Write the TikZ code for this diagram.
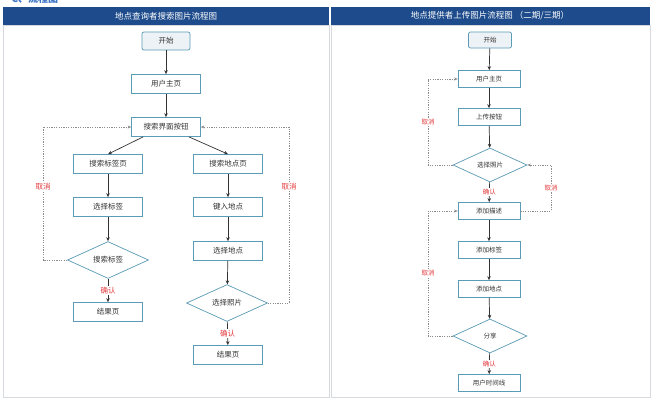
\documentclass[tikz,border=0pt]{standalone}
\usepackage{fontspec}
\setmainfont{Noto Sans CJK SC}
\usetikzlibrary{shapes.geometric,arrows.meta}

\definecolor{bandeau}{HTML}{1D4B8B}
\definecolor{bordure}{HTML}{5A9BB5}
\definecolor{fond}{HTML}{EDF2F6}
\definecolor{rouge}{HTML}{E4393C}
\definecolor{trait}{HTML}{333333}
\definecolor{texte}{HTML}{333333}
\definecolor{gris}{HTML}{8C8C8C}
\definecolor{cadre}{HTML}{D6D9DE}
\definecolor{lien}{HTML}{3B73C6}

\tikzset{
  boite/.style={draw=bordure, fill=white, line width=0.7pt, inner sep=0pt, text=texte},
  debut/.style={boite, rounded corners=2pt, fill=fond},
  choix/.style={boite, diamond},
  fleche/.style={draw=trait, line width=0.7pt, -{Stealth[length=4pt,width=3.5pt]}},
  retour/.style={draw=gris, line width=0.5pt, dash pattern=on 1.2pt off 1.2pt, -{Stealth[length=3.5pt,width=3pt]}},
  reponse/.style={fill=white, text=rouge, inner sep=1pt},
  titre/.style={text=white, font=\fontsize{8.5}{10}\selectfont}
}

\begin{document}
\begin{tikzpicture}[x=1pt, y=-1pt]
    \useasboundingbox (0,0) rectangle (652,400);
    \clip (0,0) rectangle (652,400);
    \fill[white] (0,0) rectangle (652,400);

    %Cadre
    \node[anchor=west, text=lien, font=\fontsize{10}{12}\bfseries\selectfont] (rubrique) at (8,-1) {C、流程图};
    \fill[bandeau] (3,7) rectangle (329,25);
    \fill[bandeau] (331,7) rectangle (650,25);
    \draw[cadre] (3,25) rectangle (329,397);
    \draw[cadre] (331,25) rectangle (650,397);
    \node[titre] (titreg) at (166,16) {地点查询者搜索图片流程图};
    \node[titre] (titred) at (490,16) {地点提供者上传图片流程图 （二期/三期）};

    %Recherche
    \begin{scope}[font=\fontsize{7.5}{9}\selectfont,
      boite/.append style={minimum width=69pt, minimum height=19pt},
      debut/.append style={minimum width=48pt, minimum height=18pt},
      choix/.append style={minimum width=81pt, minimum height=36pt}]
    \node[debut] (g1) at (166,41) {开始};
    \node[boite] (g2) at (166,84) {用户主页};
    \node[boite] (g3) at (166,127) {搜索界面按钮};
    \node[boite] (g4) at (108,164) {搜索标签页};
    \node[boite] (g5) at (228,164) {搜索地点页};
    \node[boite] (g6) at (108,207) {选择标签};
    \node[boite] (g7) at (228,207) {键入地点};
    \node[choix] (g8) at (108,260) {搜索标签};
    \node[boite] (g9) at (228,251) {选择地点};
    \node[choix] (g10) at (227,303) {选择照片};
    \node[boite] (g11) at (108,312) {结果页};
    \node[boite] (g12) at (228,355) {结果页};

    \draw[fleche] (g1) -- (g2);
    \draw[fleche] (g2) -- (g3);
    \draw[fleche] ([xshift=12pt]g3.south west) -- (g4.north);
    \draw[fleche] ([xshift=-12pt]g3.south east) -- (g5.north);
    \draw[fleche] (g4) -- (g6);
    \draw[fleche] (g6) -- (g8);
    \draw[fleche] (g5) -- (g7);
    \draw[fleche] (g7) -- (g9);
    \draw[fleche] (g9) -- (g10);
    \draw[fleche] (g8) -- node[reponse]{确认} (g11);
    \draw[fleche] (g10) -- node[reponse]{确认} (g12);

    \coordinate (ga) at (43,260);
    \coordinate (gb) at (43,127);
    \coordinate (gc) at (289,303);
    \coordinate (gd) at (289,127);
    \draw[retour] (g8.west) -- (ga) -- node[reponse, pos=0.55]{取消} (gb) -- (g3.west);
    \draw[retour] (g10.east) -- (gc) -- node[reponse, pos=0.66]{取消} (gd) -- (g3.east);
    \end{scope}

    %Publication
    \begin{scope}[font=\fontsize{6.5}{8}\selectfont,
      boite/.append style={minimum width=62pt, minimum height=17pt},
      debut/.append style={minimum width=43pt, minimum height=16pt},
      choix/.append style={minimum width=74pt, minimum height=34pt}]
    \node[debut] (d1) at (490,40) {开始};
    \node[boite] (d2) at (489,79) {用户主页};
    \node[boite] (d3) at (489,117) {上传按钮};
    \node[choix] (d4) at (490,165) {选择照片};
    \node[boite] (d5) at (489,211) {添加描述};
    \node[boite] (d6) at (489,250) {添加标签};
    \node[boite] (d7) at (489,289) {添加地点};
    \node[choix] (d8) at (490,336) {分享};
    \node[boite] (d9) at (489,383) {用户时间线};

    \draw[fleche] (d1) -- (d2);
    \draw[fleche] (d2) -- (d3);
    \draw[fleche] (d3) -- (d4);
    \draw[fleche] (d4) -- node[reponse]{确认} (d5);
    \draw[fleche] (d5) -- (d6);
    \draw[fleche] (d6) -- (d7);
    \draw[fleche] (d7) -- (d8);
    \draw[fleche] (d8) -- node[reponse]{确认} (d9);

    \coordinate (da) at (428,165);
    \coordinate (db) at (428,79);
    \coordinate (dc) at (551,211);
    \coordinate (dd) at (551,165);
    \coordinate (de) at (428,336);
    \coordinate (df) at (428,211);
    \draw[retour] (d4.west) -- (da) -- node[reponse]{取消} (db) -- (d2.west);
    \draw[retour] (d5.east) -- (dc) -- node[reponse]{取消} (dd) -- (d4.east);
    \draw[retour] (d8.west) -- (de) -- node[reponse]{取消} (df) -- (d5.west);
    \end{scope}
\end{tikzpicture}
\end{document}
